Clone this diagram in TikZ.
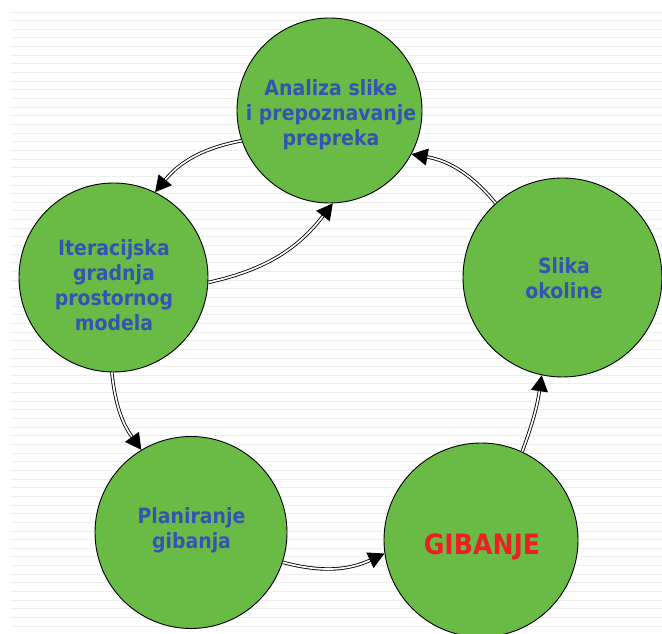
\documentclass[tikz,border=0pt]{standalone}
\usepackage{fontspec}
\newfontfamily\labfont{DejaVu Sans Condensed}
\usetikzlibrary{arrows.meta}
\definecolor{cgreen}{RGB}{106,187,70}
\definecolor{cblue}{RGB}{52,84,178}
\definecolor{cred}{RGB}{236,32,36}
\definecolor{cline}{RGB}{238,238,238}
\tikzset{
  bubble/.style={circle, draw=black, line width=0.9pt, fill=cgreen, inner sep=0pt},
  btext/.style={align=center, text=cblue, font=\labfont\bfseries\fontsize{21}{25}\selectfont},
  gtext/.style={text=cred, font=\labfont\bfseries\fontsize{28}{30}\selectfont, anchor=base},
  conn/.style={draw=black, line width=0.85pt, double=white, double distance=1.7pt,
    -{Triangle[length=16pt,width=17pt]}},
}
\begin{document}
\begin{tikzpicture}[x=1pt,y=1pt]
\useasboundingbox (0,0) rectangle (662,634);
\fill[white] (0,0) rectangle (662,634);
\foreach \i in {0,...,72} {
  \draw[cline, line width=0.9pt] (10,{622-8.65*\i}) -- (662,{622-8.65*\i});
}
% circles
\node[bubble, minimum size=185pt] (T) at (329.5,523.5) {};
\node[bubble, minimum size=189pt] (L) at (113.5,356.5) {};
\node[bubble, minimum size=199pt] (R) at (562.5,356.5) {};
\node[bubble, minimum size=192pt] (P) at (191,101.5) {};
\node[bubble, minimum size=194pt] (G) at (481,94) {};
% texts
\node[btext] (Tt) at (331,519.5) {Analiza slike\\i prepoznavanje\\prepreka};
\node[btext] (Lt) at (114,348.5) {Iteracijska\\gradnja\\prostornog\\modela};
\node[btext] (Rt) at (564,356) {Slika\\okoline};
\node[btext] (Pt) at (191.5,104) {Planiranje\\gibanja};
\node[gtext] (Gt) at (482,79) {GIBANJE};
% connectors
\draw[conn] (T.199) to[bend right=20] (L.64);
\draw[conn] (L.357) to[bend right=20] (T.272);
\draw[conn] (L.269) to[bend right=15] (P.121);
\draw[conn] (P.342) to[bend right=20] (G.188);
\draw[conn] (G.65) to[bend right=6] (R.258);
\draw[conn] (R.132) to[bend right=20] (T.332);
\end{tikzpicture}
\end{document}
